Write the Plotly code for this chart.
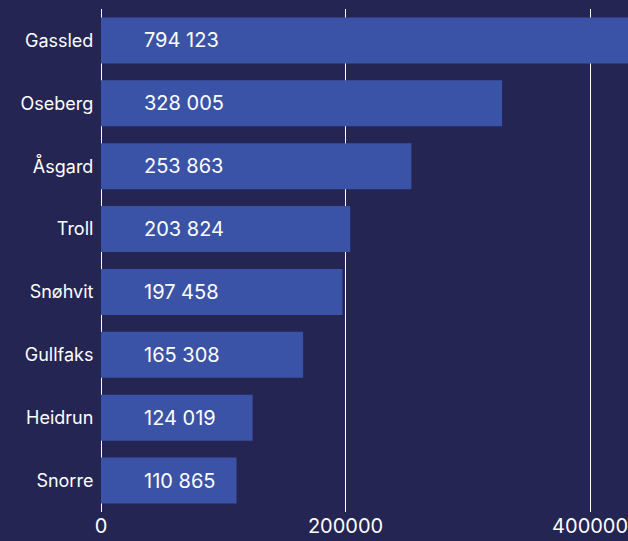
import plotly.graph_objects as go

fields = ["Gassled", "Oseberg", "Åsgard", "Troll", "Snøhvit", "Gullfaks", "Heidrun", "Snorre"]
values = [794123, 328005, 253863, 203824, 197458, 165308, 124019, 110865]
x_ticks = [0, 200000, 400000]

BG = "#242552"
BAR = "#3b53a6"
FONT = "Inter"

def fmt(v):
    return f"{v:,}".replace(",", " ")

fig = go.Figure(go.Bar(
    x=values, y=fields, orientation="h",
    marker=dict(color=BAR, line=dict(width=0)),
    hoverinfo="skip",
))

for f, v in zip(fields, values):
    fig.add_annotation(x=0, y=f, text=fmt(v), showarrow=False,
                       xanchor="left", yanchor="middle", xshift=41,
                       font=dict(family=FONT, size=20, color="#ffffff"))

fig.update_layout(
    width=628, height=541,
    paper_bgcolor=BG, plot_bgcolor=BG,
    margin=dict(l=101, r=0, t=9, b=29, autoexpand=False),
    bargap=0.27,
    showlegend=False,
    font=dict(family=FONT, size=18, color="#ffffff"),
)
fig.update_xaxes(range=[0, 431000], tickvals=x_ticks, ticktext=[str(t) for t in x_ticks],
                 showgrid=True, gridcolor="#ffffff", gridwidth=1,
                 zeroline=True, zerolinecolor="#ffffff", zerolinewidth=1,
                 showline=False, ticks="", automargin=False, ticklabeloverflow="allow",
                 tickfont=dict(family=FONT, size=20, color="#ffffff"))
fig.update_yaxes(autorange="reversed", showgrid=False, zeroline=False, showline=False,
                 ticks="outside", ticklen=3, tickcolor=BG, automargin=False,
                 tickfont=dict(family=FONT, size=18, color="#ffffff"))

fig.write_html("out.html", config={"displayModeBar": False},
               post_script="document.body.style.margin='0';document.body.style.background='%s';" % BG)
